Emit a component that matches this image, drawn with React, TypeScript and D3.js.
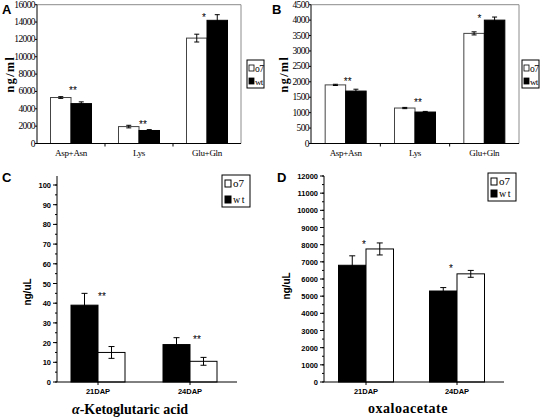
import React from "react";
import * as d3 from "d3";

// ---------- data ----------
const catsAB = ["Asp+Asn", "Lys", "Glu+Gln"];
const aO7 = [5300, 1950, 12150];
const aO7Err = [100, 150, 450];
const aWt = [4600, 1500, 14200];
const aWtErr = [200, 100, 650];
const aStars = ["**", "**", "*"];
const aStarVals = [6377, 2435, 14840];
const aTicks = [0, 2000, 4000, 6000, 8000, 10000, 12000, 14000, 16000];

const bO7 = [1900, 1150, 3570];
const bO7Err = [20, 20, 50];
const bWt = [1700, 1020, 4000];
const bWtErr = [60, 20, 100];
const bStars = ["**", "**", "*"];
const bStarVals = [2087, 1402, 4141];
const bTicks = [0, 500, 1000, 1500, 2000, 2500, 3000, 3500, 4000, 4500];

const catsCD = ["21DAP", "24DAP"];
const cWt = [39, 19];
const cWtErr = [6, 3.5];
const cO7 = [15, 10.5];
const cO7Err = [3, 2];
const cStars = ["**", "**"];
const cStarVals = [44.7, 22.8];
const cTicks = [0, 10, 20, 30, 40, 50, 60, 70, 80, 90, 100];

const dWt = [6800, 5300];
const dWtErr = [550, 200];
const dO7 = [7750, 6300];
const dO7Err = [350, 200];
const dStars = ["*", "*"];
const dStarVals = [8154, 6756];
const dTicks = [0, 1000, 2000, 3000, 4000, 5000, 6000, 7000, 8000, 9000, 10000, 11000, 12000];

const legendLabels = ["o7", "wt"];

const SERIF = "'Liberation Serif', 'DejaVu Serif', serif";
const SANS = "'Liberation Sans', Arial, sans-serif";

function ErrBar({ x, y0, y1, cap }: { x: number; y0: number; y1: number; cap: number }) {
  return (
    <g stroke="#000" strokeWidth={1}>
      <line x1={x} x2={x} y1={y0} y2={y1} />
      <line x1={x - cap} x2={x + cap} y1={y0} y2={y0} />
      <line x1={x - cap} x2={x + cap} y1={y1} y2={y1} />
    </g>
  );
}

function ExcelPanel(p: any) {
  const x = d3.scaleBand().domain(p.cats).range([p.x0, p.x1]);
  const y = d3.scaleLinear().domain([0, p.yMax]).range([p.yBot, p.yTop]);
  const bw = p.barW;
  const bounds = d3.range(1, p.cats.length).map((i) => p.x0 + i * x.step());
  return (
    <g>
      <text x={p.letterX} y={14} fontFamily={SANS} fontWeight="bold" fontSize={13} fill="#000">{p.letter}</text>
      <line x1={p.x0} x2={p.x1} y1={y(p.yMax)} y2={y(p.yMax)} stroke="#8c8c8c" />
      <line x1={p.x1} x2={p.x1} y1={y(p.yMax)} y2={p.yBot} stroke="#8c8c8c" />
      {p.cats.map((c: string, i: number) => {
        const cx = (x(c) as number) + x.bandwidth() / 2;
        return (
          <g key={c}>
            <rect x={cx - bw} y={y(p.o7[i])} width={bw} height={p.yBot - y(p.o7[i])} fill="#fff" stroke="#444" strokeWidth={1} />
            <rect x={cx} y={y(p.wt[i])} width={bw} height={p.yBot - y(p.wt[i])} fill="#000" stroke="#000" strokeWidth={1} />
            <ErrBar x={cx - bw / 2} y0={y(p.o7[i] - p.o7Err[i])} y1={y(p.o7[i] + p.o7Err[i])} cap={2.5} />
            <ErrBar x={cx + bw / 2} y0={y(p.wt[i] - p.wtErr[i])} y1={y(p.wt[i] + p.wtErr[i])} cap={2.5} />
            <text x={cx + p.starDx[i]} y={y(p.starVals[i]) + 6} textAnchor="middle" fontFamily={SANS} fontSize={10} fill="#000">{p.stars[i]}</text>
            <text x={cx} y={156} textAnchor="middle" fontFamily={SERIF} fontSize={9} letterSpacing={-0.3} fill="#000">{c}</text>
          </g>
        );
      })}
      <line x1={p.x0} x2={p.x0} y1={y(p.yMax)} y2={p.yBot} stroke="#000" />
      <line x1={p.x0} x2={p.x1} y1={p.yBot} y2={p.yBot} stroke="#000" />
      {bounds.map((b: number) => (
        <line key={b} x1={b} x2={b} y1={p.yBot} y2={p.yBot + 3} stroke="#000" />
      ))}
      {p.ticks.map((t: number) => (
        <g key={t}>
          <line x1={p.x0 - 2} x2={p.x0} y1={y(t)} y2={y(t)} stroke="#000" />
          <text x={p.x0 - 2} y={y(t) + 3} textAnchor="end" fontFamily={SERIF} fontSize={9.5} letterSpacing={-0.6} fill="#000">{t}</text>
        </g>
      ))}
      <text transform={`translate(${p.ylabX},${(p.yTop + p.yBot) / 2}) rotate(-90)`} textAnchor="middle" fontFamily={SERIF} fontSize={12} fontWeight="bold" letterSpacing={1.5} fill="#000">ng/ml</text>
      <g transform={`translate(${p.legX},${p.legY})`}>
        <rect x={0} y={0} width={17} height={28} fill="#fff" stroke="#000" />
        <rect x={2} y={5} width={5} height={6} fill="#fff" stroke="#000" strokeWidth={0.8} />
        <text x={8} y={12} fontFamily={SERIF} fontSize={9.5} letterSpacing={-0.5} fill="#000">{legendLabels[0]}</text>
        <rect x={2} y={18} width={5} height={6} fill="#000" stroke="#000" strokeWidth={0.8} />
        <text x={8} y={25} fontFamily={SERIF} fontSize={9} letterSpacing={-0.8} fill="#000">{legendLabels[1]}</text>
      </g>
    </g>
  );
}

function OriginPanel(p: any) {
  const x = d3.scaleBand().domain(p.cats).range([p.bx0, p.bx1]);
  const y = d3.scaleLinear().domain([0, p.yMax]).range([p.yBot, p.yTopVal]);
  const bw = p.barW;
  const minor = d3.range(0, p.yMax + 0.001, p.yMax / (p.ticks.length - 1) / 2);
  return (
    <g>
      <text x={p.letterX} y={182} fontFamily={SANS} fontWeight="bold" fontSize={13} fill="#000">{p.letter}</text>
      {p.cats.map((c: string, i: number) => {
        const cx = (x(c) as number) + x.bandwidth() / 2;
        return (
          <g key={c}>
            <rect x={cx - bw} y={y(p.wt[i])} width={bw} height={p.yBot - y(p.wt[i])} fill="#000" stroke="#000" />
            <rect x={cx} y={y(p.o7[i])} width={bw} height={p.yBot - y(p.o7[i])} fill="#fff" stroke="#000" />
            <ErrBar x={cx - bw / 2} y0={y(p.wt[i] - p.wtErr[i])} y1={y(p.wt[i] + p.wtErr[i])} cap={3} />
            <ErrBar x={cx + bw / 2} y0={y(p.o7[i] - p.o7Err[i])} y1={y(p.o7[i] + p.o7Err[i])} cap={3} />
            <text x={cx + p.starDx[i]} y={y(p.starVals[i]) + 6} textAnchor="middle" fontFamily={SANS} fontSize={10} fill="#000">{p.stars[i]}</text>
            <line x1={cx} x2={cx} y1={p.yBot} y2={p.yBot + 3} stroke="#000" />
            <text x={cx} y={394} textAnchor="middle" fontFamily={SANS} fontWeight="bold" fontSize={7.5} fill="#000">{c}</text>
          </g>
        );
      })}
      <line x1={p.x0} x2={p.x0} y1={p.axisTop} y2={p.yBot} stroke="#000" />
      <line x1={p.x0} x2={p.x1} y1={p.yBot} y2={p.yBot} stroke="#000" />
      {minor.map((t: number) => (
        <line key={"m" + t} x1={p.x0 - 2} x2={p.x0} y1={y(t)} y2={y(t)} stroke="#000" />
      ))}
      {p.ticks.map((t: number) => (
        <g key={t}>
          <line x1={p.x0 - 4} x2={p.x0} y1={y(t)} y2={y(t)} stroke="#000" />
          <text x={p.x0 - 6} y={y(t) + 3} textAnchor="end" fontFamily={SANS} fontWeight="bold" fontSize={7.5} fill="#000">{t}</text>
        </g>
      ))}
      <text transform={`translate(${p.ylabX},${p.ylabY}) rotate(-90)`} textAnchor="middle" fontFamily={SANS} fontSize={10} fontWeight="bold" fill="#000">ng/uL</text>
      {p.title}
      <g transform={`translate(${p.legX},${p.legY})`}>
        <rect x={0} y={0} width={28} height={p.legH} fill="#fff" stroke="#000" />
        <rect x={3} y={5} width={6} height={7} fill="#fff" stroke="#000" />
        <text x={11} y={12} fontFamily={SERIF} fontSize={11} fill="#000">{legendLabels[0]}</text>
        <rect x={3} y={p.legH - 11} width={6} height={7} fill="#000" stroke="#000" />
        <text x={11} y={p.legH - 4} fontFamily={SERIF} fontSize={10} letterSpacing={1.5} fill="#000">{legendLabels[1]}</text>
      </g>
    </g>
  );
}

export default function App() {
  return (
    <svg width={542} height={417} style={{ position: "absolute", left: 0, top: 0, background: "#fff" }}>
      <rect width={542} height={417} fill="#fff" />
      <ExcelPanel
        letter="A" letterX={2} cats={catsAB} o7={aO7} o7Err={aO7Err} wt={aWt} wtErr={aWtErr}
        stars={aStars} starVals={aStarVals} starDx={[2, 4, -3]} ticks={aTicks} yMax={16000}
        x0={37} x1={241} yTop={4.7} yBot={143.5} barW={20.5} ylabX={14} legX={247} legY={60}
      />
      <ExcelPanel
        letter="B" letterX={272} cats={catsAB} o7={bO7} o7Err={bO7Err} wt={bWt} wtErr={bWtErr}
        stars={bStars} starVals={bStarVals} starDx={[2, 3, -5]} ticks={bTicks} yMax={4500}
        x0={311} x1={519} yTop={4.7} yBot={143.5} barW={20.5} ylabX={288} legX={522} legY={60}
      />
      <OriginPanel
        letter="C" letterX={2} cats={catsCD} wt={cWt} wtErr={cWtErr} o7={cO7} o7Err={cO7Err}
        stars={cStars} starVals={cStarVals} starDx={[4, 7]} ticks={cTicks} yMax={100}
        x0={57} x1={237} bx0={52} bx1={236} yBot={382} yTopVal={185} axisTop={176} barW={27}
        ylabX={31} ylabY={292} legX={222} legY={175} legH={32}
        title={
          <text x={130} y={414} textAnchor="middle" fontFamily={SERIF} fontWeight="bold" fontSize={14} fill="#000">
            <tspan fontStyle="italic">α</tspan>-Ketoglutaric acid
          </text>
        }
      />
      <OriginPanel
        letter="D" letterX={277} cats={catsCD} wt={dWt} wtErr={dWtErr} o7={dO7} o7Err={dO7Err}
        stars={dStars} starVals={dStarVals} starDx={[-2, -6]} ticks={dTicks} yMax={12000}
        x0={324} x1={504} bx0={320.5} bx1={502.5} yBot={382} yTopVal={176} axisTop={176} barW={27.5}
        ylabX={290} ylabY={286} legX={488} legY={173} legH={28}
        title={
          <text x={408} y={413} textAnchor="middle" fontFamily={SERIF} fontWeight="bold" fontSize={14} letterSpacing={0.5} fill="#000">
            oxaloacetate
          </text>
        }
      />
    </svg>
  );
}
